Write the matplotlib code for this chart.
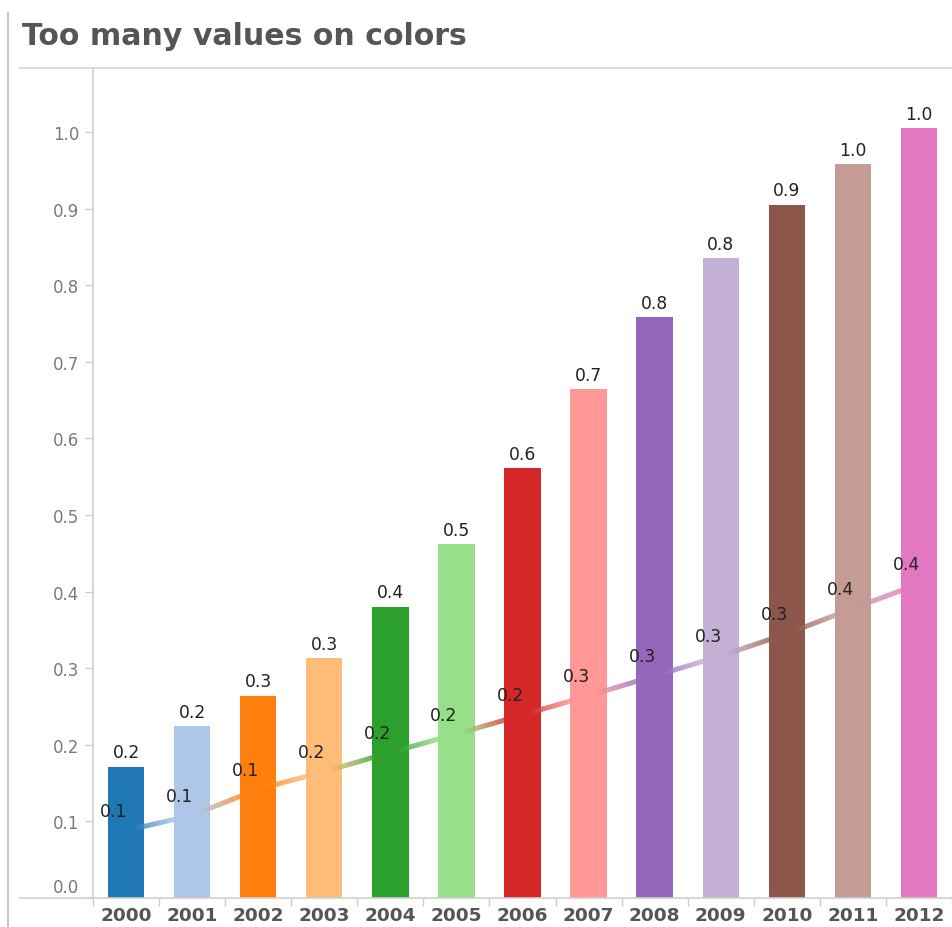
import numpy as np
import matplotlib
matplotlib.use("Agg")
import matplotlib.pyplot as plt
from matplotlib.collections import LineCollection
from matplotlib.lines import Line2D
from matplotlib.colors import to_rgba
import matplotlib.transforms as mtransforms

years = ["2000", "2001", "2002", "2003", "2004", "2005", "2006",
         "2007", "2008", "2009", "2010", "2011", "2012"]
bar_values = [0.171, 0.224, 0.264, 0.313, 0.380, 0.462, 0.561,
              0.664, 0.758, 0.835, 0.905, 0.958, 1.005]
line_values = [0.088, 0.108, 0.142, 0.165, 0.190, 0.214, 0.239,
               0.264, 0.290, 0.316, 0.345, 0.378, 0.410]
colors = ["#1f77b4", "#aec7e8", "#ff7f0e", "#ffbb78", "#2ca02c", "#98df8a",
          "#d62728", "#ff9896", "#9467bd", "#c5b0d5", "#8c564b", "#c49c94",
          "#e377c2"]
title = "Too many values on colors"

W, H = 952, 928
fig = plt.figure(figsize=(W / 100, H / 100), dpi=100)
fig.patch.set_facecolor("white")

ax_left, ax_right, ax_bottom, ax_top = 93, 952, 899, 69
ax = fig.add_axes([ax_left / W, 1 - ax_bottom / H,
                   (ax_right - ax_left) / W, (ax_bottom - ax_top) / H])
ax.set_facecolor("white")

x = np.arange(len(years))
ax.bar(x, bar_values, width=0.55, color=colors, zorder=2)

# bar labels
for xi, v in zip(x, bar_values):
    ax.annotate(f"{v:.1f}", (xi, v), xytext=(0, 4), textcoords="offset points",
                ha="center", va="bottom", fontsize=12.3, color="#222222", zorder=5)

# gradient line segments
for i in range(len(x) - 1):
    t = np.linspace(0.1, 0.78, 30)
    xs = x[i] + t * (x[i + 1] - x[i])
    ys = line_values[i] + t * (line_values[i + 1] - line_values[i])
    pts = np.array([xs, ys]).T.reshape(-1, 1, 2)
    segs = np.concatenate([pts[:-1], pts[1:]], axis=1)
    c0 = np.array(to_rgba(colors[i]))
    c1 = np.array(to_rgba(colors[i + 1]))
    tm = (t[:-1] + t[1:]) / 2
    tt = (tm - 0.1) / 0.68
    cols = (1 - tt)[:, None] * c0 + tt[:, None] * c1
    cols[:, 3] = 0.85
    lc = LineCollection(segs, colors=cols, linewidths=3.6, capstyle="butt", zorder=3)
    ax.add_collection(lc)

# line labels
for xi, v in zip(x, line_values):
    ax.annotate(f"{v:.1f}", (xi, v), xytext=(-9, 14), textcoords="offset points",
                ha="center", va="center", fontsize=12.3, color="#222222", zorder=5)

ax.set_xlim(-0.5, len(x) - 0.5)
ax.set_ylim(0, (ax_bottom - ax_top) / 766)
ax.set_yticks(np.arange(0, 1.01, 0.1))
ax.set_yticklabels([f"{v:.1f}" for v in np.arange(0, 1.01, 0.1)])
ax.set_xticks(x)
ax.set_xticklabels(years, fontweight="bold", fontsize=13.3, color="#555555")
ax.set_xticks(np.arange(-0.5, len(x), 1.0), minor=True)
ax.tick_params(axis="x", which="major", length=0, pad=6)
ax.tick_params(axis="x", which="minor", length=6, color="#cccccc", width=1)
ax.tick_params(axis="y", length=6, color="#cccccc", width=1, pad=4,
               labelsize=12, labelcolor="#7a7a7a")

# shift 0.0 label up like the reference
lbl0 = ax.get_yticklabels()[0]
lbl0.set_transform(lbl0.get_transform() +
                   mtransforms.ScaledTranslation(0, 13 / 100, fig.dpi_scale_trans))

for s in ["top", "right", "bottom"]:
    ax.spines[s].set_visible(False)
ax.spines["left"].set_color("#d0d0d0")
ax.spines["left"].set_linewidth(1.2)

# figure decorations
fig.add_artist(Line2D([20 / W, 1], [1 - ax_top / H] * 2, color="#d4d4d4", lw=1.2))
fig.add_artist(Line2D([20 / W, 1], [1 - ax_bottom / H] * 2, color="#d0d0d0", lw=1.2))
fig.add_artist(Line2D([8 / W, 8 / W], [0, 1 - 14 / H], color="#c8c8c8", lw=1.5))

fig.text(22 / W, 1 - 45 / H, title, fontsize=21.6, fontweight="bold",
         color="#555555", ha="left", va="baseline")

fig.savefig("out.png", dpi=100, facecolor="white")
